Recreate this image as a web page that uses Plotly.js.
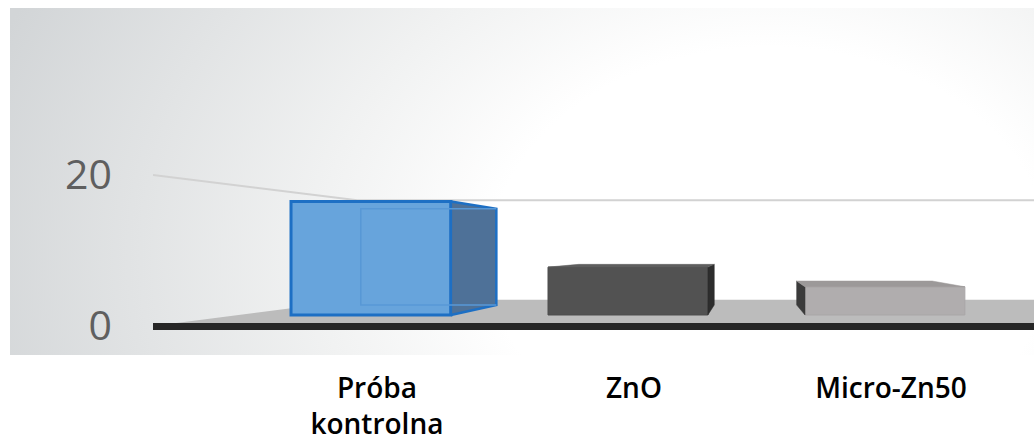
<!DOCTYPE html>
<html>
<head>
<meta charset="utf-8">
<script src="https://cdn.plot.ly/plotly-3.0.1.min.js"></script>
<style>
  html, body { margin: 0; padding: 0; background: #ffffff; }
  #wrap { position: relative; width: 1034px; height: 443px; overflow: hidden; }
  #bg { position: absolute; left: 10px; top: 8px; width: 1024px; height: 347px;
        background: radial-gradient(ellipse 820px 620px at 760px 250px, #ffffff 34%, #f1f2f2 55%, #d2d5d7 100%); }
  #chart { position: absolute; left: 0; top: 0; width: 1034px; height: 443px; }
</style>
</head>
<body>
<div id="wrap">
  <div id="bg"></div>
  <div id="chart"></div>
</div>
<script>
// ---- data ----
const categories = ['Próba kontrolna', 'ZnO', 'Micro-Zn50'];
const values = [17.3, 7.3, 4.3];
const yTickVals = [0, 20];
const yTickText = ['0', '20'];

// ---- styles ----
const frontColors = ['#67a4dc', '#525252', '#b0adae'];
const edgeColors  = ['#1d6fc4', '#4c4c4c', '#aaa7a8'];
const edgeWidths  = [3, 1, 1];
const sideColors  = ['#4e7198', '#2d2d2d', '#3b3b3b'];
const topColors   = ['#6aa7dd', '#5e5e5e', '#9c9999'];

// perspective settings (in axis units)
const barWidth = 0.622;
const vp = {x: 1.475, y2: 10.06, y: 10.19};   // vanishing point
const barDepth = 0.152;                      // fraction toward vanishing point
const wallDepth = 0.342;

function back(x, y, vy, s) { return [x + s * (vp.x - x), y + s * (vy - y)]; }

const traces = [];

// side and top faces, built from the values
values.forEach((v, i) => {
  const xl = i - barWidth / 2, xr = i + barWidth / 2;
  const xe = vp.x > xr ? xr : xl;
  const b0 = back(xe, 0, vp.y2, barDepth);
  const b1 = back(xe, v, vp.y2, barDepth);
  traces.push({
    type: 'scatter', mode: 'lines', xaxis: 'x', yaxis: 'y2',
    x: [xe, xe, b1[0], b0[0], xe], y: [0, v, b1[1], b0[1], 0],
    fill: 'toself', fillcolor: sideColors[i],
    line: {color: i === 0 ? edgeColors[i] : sideColors[i], width: i === 0 ? 2.5 : 0.5},
    hoverinfo: 'skip', showlegend: false
  });
  if (v < vp.y2) {
    const t0 = back(xl, v, vp.y2, barDepth);
    const t1 = back(xr, v, vp.y2, barDepth);
    traces.push({
      type: 'scatter', mode: 'lines', xaxis: 'x', yaxis: 'y2',
      x: [xl, xr, t1[0], t0[0], xl], y: [v, v, t1[1], t0[1], v],
      fill: 'toself', fillcolor: topColors[i],
      line: {color: topColors[i], width: 0.5},
      hoverinfo: 'skip', showlegend: false
    });
  }
});

// front faces
traces.push({
  type: 'bar', x: categories.map((c, i) => i), y: values, yaxis: 'y2',
  width: barWidth,
  marker: {color: frontColors, line: {color: edgeColors, width: edgeWidths}},
  hovertext: categories, hoverinfo: 'text+y', showlegend: false
});

// hidden back edges seen through the translucent first bar
(function () {
  const v = values[0], xl = -barWidth / 2, xr = barWidth / 2;
  const a = back(xl, 0, vp.y2, barDepth), b = back(xl, v, vp.y2, barDepth);
  const c = back(xr, 0, vp.y2, barDepth), d = back(xr, v, vp.y2, barDepth);
  traces.push({
    type: 'scatter', mode: 'lines', xaxis: 'x', yaxis: 'y2',
    x: [c[0], a[0], b[0], d[0]], y: [c[1], a[1], b[1], d[1]],
    line: {color: '#5898d6', width: 1.5},
    hoverinfo: 'skip', showlegend: false
  });
})();

// floor and back-wall gridline (frame decoration on the front axis)
const xLeft = -0.848, xFar = 6;
const bl = back(xLeft, 0, vp.y, wallDepth);
const br = back(xFar, 0, vp.y, wallDepth);
const g0 = back(xLeft, yTickVals[1], vp.y, wallDepth);

const layout = {
  width: 1034, height: 443,
  margin: {l: 153, r: 0, t: 8, b: 88, pad: 0},
  paper_bgcolor: 'rgba(0,0,0,0)', plot_bgcolor: 'rgba(0,0,0,0)',
  showlegend: false,
  xaxis: {
    range: [xLeft, 2.58], tickvals: categories.map((c, i) => i),
    ticktext: categories.map(c => c.replace(' ', '<br>')),
    showgrid: false, zeroline: false, showline: false, ticks: '',
    ticklabelstandoff: 14, ticklabelshift: 6,
    tickfont: {family: 'Open Sans, sans-serif', size: 28, color: '#000000', weight: 600}
  },
  yaxis: {
    range: [-3.84, 42.1], tickvals: yTickVals, ticktext: yTickText,
    showgrid: false, zeroline: true, zerolinecolor: '#262626', zerolinewidth: 7,
    showline: false, ticks: '', ticklabelstandoff: 40,
    tickfont: {family: 'Open Sans, sans-serif', size: 41, color: '#5f5f5f'}
  },
  yaxis2: {range: [-6.1, 46.8], overlaying: 'y', visible: false},
  shapes: [
    {type: 'path', xref: 'x', yref: 'y', layer: 'below',
     path: `M ${xLeft} 0 L ${xFar} 0 L ${br[0]} ${br[1]} L ${bl[0]} ${bl[1]} Z`,
     fillcolor: '#bcbcbc', line: {width: 0}},
    {type: 'path', xref: 'x', yref: 'y', layer: 'below',
     path: `M ${xLeft} ${yTickVals[1]} L ${g0[0]} ${g0[1]} L ${xFar} ${g0[1]}`,
     line: {color: '#d2d2d2', width: 2}}
  ]
};

Plotly.newPlot('chart', traces, layout, {displayModeBar: false, staticPlot: true});
</script>
</body>
</html>
